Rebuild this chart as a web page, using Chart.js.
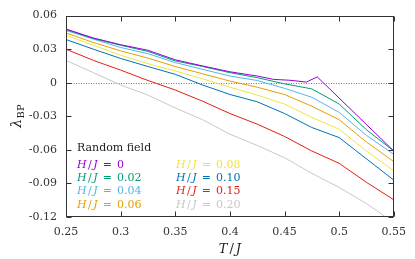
<!DOCTYPE html>
<html>
<head>
<meta charset="utf-8">
<script src="https://cdn.jsdelivr.net/npm/chart.js@4.4.0/dist/chart.umd.min.js"></script>
<style>
  html, body { margin: 0; padding: 0; background: #fff; }
  #wrap { width: 415px; height: 259px; position: relative; }
</style>
</head>
<body>
<div id="wrap"><canvas id="grafica"></canvas></div>
<script>
// temperaturas comunes (T/J)
const temps = [0.25, 0.275, 0.30, 0.325, 0.35, 0.375, 0.40, 0.425, 0.45, 0.475, 0.50, 0.525, 0.55];
// H/J = 0 tiene su propio muestreo (pico en 0.48)
const tempsH0 = [0.25, 0.275, 0.30, 0.325, 0.35, 0.375, 0.40, 0.425, 0.44, 0.455, 0.47, 0.48, 0.55];

const lamH000 = [0.048, 0.040, 0.034, 0.029, 0.0205, 0.015, 0.0098, 0.006, 0.003, 0.0022, 0.0006, 0.0052, -0.061];
const lamH002 = [0.0475, 0.0395, 0.0335, 0.028, 0.0195, 0.0145, 0.009, 0.0045, -0.001, -0.0055, -0.019, -0.042, -0.061];
const lamH004 = [0.0467, 0.039, 0.0315, 0.026, 0.018, 0.012, 0.006, 0.002, -0.005, -0.013, -0.0265, -0.047, -0.064];
const lamH006 = [0.0445, 0.036, 0.0285, 0.022, 0.0145, 0.008, 0.0015, -0.004, -0.0105, -0.021, -0.033, -0.053, -0.0705];
const lamH008 = [0.0425, 0.0335, 0.0246, 0.017, 0.0105, 0.0035, -0.004, -0.011, -0.019, -0.031, -0.0415, -0.061, -0.0787];
const lamH010 = [0.0386, 0.030, 0.0217, 0.0145, 0.0075, -0.002, -0.0105, -0.017, -0.0275, -0.040, -0.049, -0.068, -0.087];
const lamH015 = [0.030, 0.020, 0.0113, 0.002, -0.0065, -0.0165, -0.0275, -0.037, -0.048, -0.061, -0.072, -0.089, -0.1046];
const lamH020 = [0.0199, 0.009, -0.002, -0.011, -0.0225, -0.033, -0.046, -0.056, -0.067, -0.081, -0.0935, -0.108, -0.125];

const campos = ['0', '0.02', '0.04', '0.06', '0.08', '0.10', '0.15', '0.20'];
const colores = ['#9400d3', '#009e73', '#56b4e9', '#e69f00', '#f0e442', '#0072b2', '#e51e10', '#c8c8c8'];
const series = [lamH000, lamH002, lamH004, lamH006, lamH008, lamH010, lamH015, lamH020];

const xTicks = [0.25, 0.30, 0.35, 0.40, 0.45, 0.50, 0.55];
const yTicks = [-0.12, -0.09, -0.06, -0.03, 0, 0.03, 0.06];

const fuente = "'DejaVu Serif', serif";

function puntos(ts, ys) {
    return ts.map((t, i) => ({ x: t, y: ys[i] }));
}

const datasets = series.map((ys, i) => ({
    label: campos[i],
    data: puntos(i === 0 ? tempsH0 : temps, ys),
    borderColor: colores[i],
    borderWidth: 1,
    pointRadius: 0,
    fill: false,
    tension: 0
}));

// escribe H / J = valor con H y J en cursiva
function textoMat(ctx, px, py, valor, size) {
    const partes = [['H', 'italic '], ['/', ''], ['J', 'italic '], ['=', ''], [valor, '']];
    const huecos = [1.5, 1.5, 5, 5, 0];
    partes.forEach((p, k) => {
        ctx.font = p[1] + size + 'px ' + fuente;
        ctx.fillText(p[0], px, py);
        px += ctx.measureText(p[0]).width + huecos[k];
    });
}

// marco, ticks hacia dentro, linea punteada en cero, leyenda y titulos
const marcoPlugin = {
    id: 'marco',
    beforeDatasetsDraw(chart) {
        const { ctx, chartArea: a, scales: { y } } = chart;
        const y0 = Math.round(y.getPixelForValue(0)) + 0.5;
        ctx.save();
        ctx.strokeStyle = '#777';
        ctx.lineWidth = 1;
        ctx.setLineDash([1, 1.5]);
        ctx.beginPath();
        ctx.moveTo(a.left, y0);
        ctx.lineTo(a.right, y0);
        ctx.stroke();
        ctx.restore();
    },
    afterDatasetsDraw(chart) {
        const { ctx, chartArea: a, scales: { x, y } } = chart;
        const L = Math.round(a.left) + 0.5, R = Math.round(a.right) - 0.5;
        const T = Math.round(a.top) + 0.5, B = Math.round(a.bottom) - 0.5;
        ctx.save();
        ctx.strokeStyle = '#333';
        ctx.lineWidth = 1;
        ctx.strokeRect(L, T, R - L, B - T);
        ctx.beginPath();
        xTicks.forEach(v => {
            const px = Math.round(x.getPixelForValue(v)) + 0.5;
            ctx.moveTo(px, B); ctx.lineTo(px, B - 5);
            ctx.moveTo(px, T); ctx.lineTo(px, T + 5);
        });
        yTicks.forEach(v => {
            const py = Math.round(y.getPixelForValue(v)) + 0.5;
            ctx.moveTo(L, py); ctx.lineTo(L + 5, py);
            ctx.moveTo(R, py); ctx.lineTo(R - 5, py);
        });
        ctx.stroke();
        ctx.restore();
    },
    afterDraw(chart) {
        const { ctx, chartArea: a } = chart;
        ctx.save();
        ctx.textBaseline = 'alphabetic';
        ctx.textAlign = 'left';

        // leyenda
        ctx.fillStyle = '#222';
        ctx.font = '11px ' + fuente;
        ctx.fillText('Random field', 77, 150.5);
        campos.forEach((c, i) => {
            const col = Math.floor(i / 4), fila = i % 4;
            ctx.fillStyle = colores[i];
            textoMat(ctx, col === 0 ? 77 : 176, 167.5 + fila * 13.4, c, 11);
        });

        // titulo eje x
        ctx.fillStyle = '#222';
        ctx.font = 'italic 13px ' + fuente;
        const wT = ctx.measureText('T').width, wJ = ctx.measureText('J').width;
        ctx.font = '13px ' + fuente;
        const wS = ctx.measureText('/').width;
        let xt = (a.left + a.right) / 2 - (wT + wS + wJ + 4) / 2;
        ctx.font = 'italic 13px ' + fuente;
        ctx.fillText('T', xt, 252.5);
        xt += wT + 2;
        ctx.font = '13px ' + fuente;
        ctx.fillText('/', xt, 252.5);
        xt += wS + 2;
        ctx.font = 'italic 13px ' + fuente;
        ctx.fillText('J', xt, 252.5);

        // titulo eje y (lambda_BP)
        ctx.translate(21, (a.top + a.bottom) / 2);
        ctx.rotate(-Math.PI / 2);
        ctx.font = 'italic 14px ' + fuente;
        const wl = ctx.measureText('λ').width;
        ctx.font = '10px ' + fuente;
        const wb = ctx.measureText('BP').width;
        const x0 = -(wl + wb) / 2;
        ctx.font = 'italic 14px ' + fuente;
        ctx.fillText('λ', x0, 0);
        ctx.font = '10px ' + fuente;
        ctx.fillText('BP', x0 + wl + 0.5, 3);
        ctx.restore();
    }
};

const ctx = document.getElementById('grafica').getContext('2d');
new Chart(ctx, {
    type: 'line',
    data: { datasets: datasets },
    options: {
        responsive: true,
        maintainAspectRatio: false,
        animation: false,
        layout: { padding: { left: 0, right: 21, top: 13, bottom: 0 } },
        plugins: { legend: { display: false }, tooltip: { enabled: false } },
        scales: {
            x: {
                type: 'linear',
                min: 0.25,
                max: 0.55,
                afterBuildTicks: s => { s.ticks = xTicks.map(v => ({ value: v })); },
                afterFit: s => { s.height = 42; },
                grid: { display: false, drawTicks: false },
                border: { display: false },
                ticks: {
                    padding: 9,
                    color: '#333',
                    font: { family: fuente, size: 11 },
                    maxRotation: 0,
                    callback: v => String(Number(v.toFixed(2)))
                }
            },
            y: {
                min: -0.12,
                max: 0.06,
                afterBuildTicks: s => { s.ticks = yTicks.map(v => ({ value: v })); },
                afterFit: s => { s.width = 66; },
                grid: { display: false, drawTicks: false },
                border: { display: false },
                ticks: {
                    padding: 9,
                    color: '#333',
                    font: { family: fuente, size: 11 },
                    callback: v => String(Number(v.toFixed(2)))
                }
            }
        }
    },
    plugins: [marcoPlugin]
});
</script>
</body>
</html>
